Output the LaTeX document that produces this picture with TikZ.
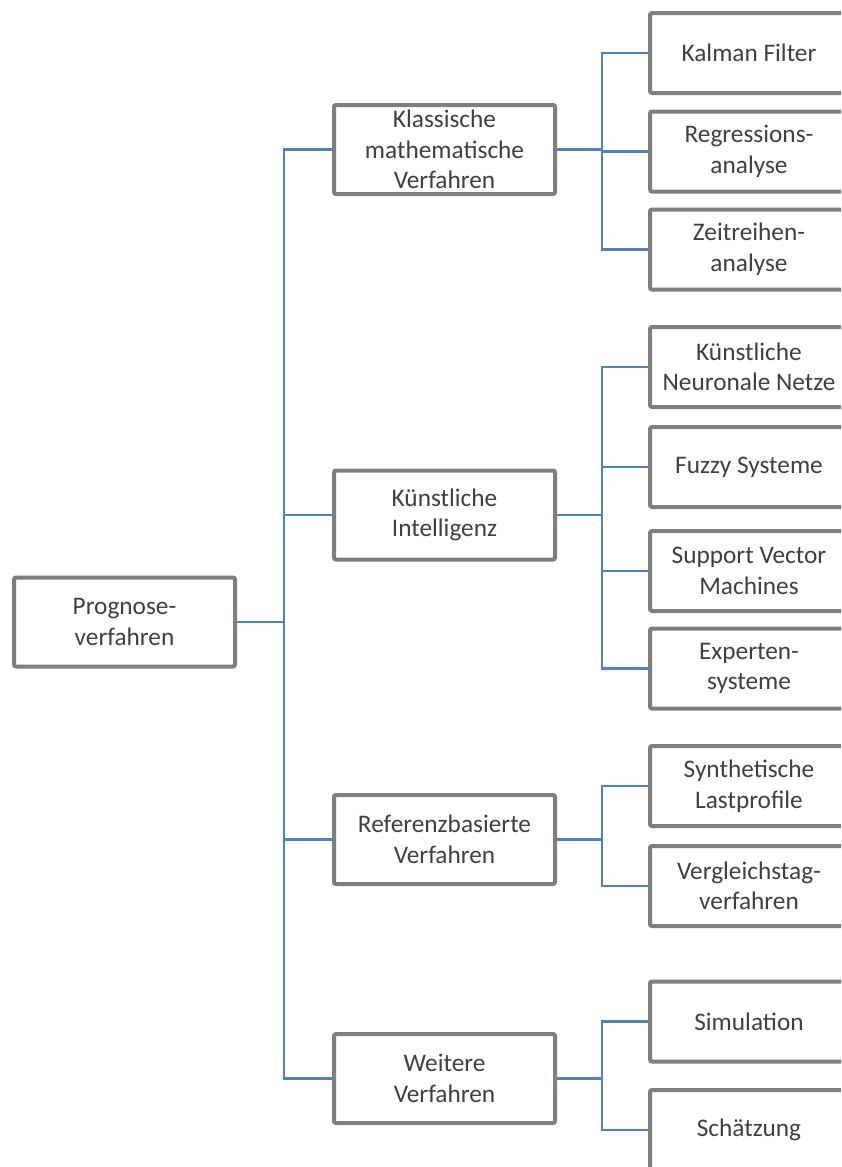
\documentclass[tikz,border=0pt]{standalone}
\usepackage{fontspec}
\setmainfont{Carlito}
\definecolor{boxgray}{HTML}{7F7F7F}
\definecolor{linkblue}{HTML}{4F81BD}
\definecolor{txtgray}{HTML}{404040}
\begin{document}
\begin{tikzpicture}[x=1pt,y=-1pt,
  boxtext/.style={text=txtgray, align=center, inner sep=0pt,
    font=\fontsize{25.3}{30.5}\selectfont},
  frame/.style={draw=boxgray, line width=4pt, rounded corners=2pt},
  mainbox/.style={frame, fill=white, boxtext, minimum width=221pt, minimum height=89pt},
  leafbox/.style={boxtext, outer sep=0pt, minimum width=198pt, minimum height=80pt},
  link/.style={draw=linkblue, line width=2.5pt}]
\useasboundingbox (0,0) rectangle (841,1167);
\clip (0,0) rectangle (841,1167);
\fill[white] (0,0) rectangle (841,1167);

% root
\node[mainbox] (prog) at (124.5,622) {Prognose-\\verfahren};

% second level
\node[mainbox] (klass) at (444.5,149.5) {Klassische\\mathematische\\Verfahren};
\node[mainbox] (ki)    at (444.5,515)   {Künstliche\\Intelligenz};
\node[mainbox] (ref)   at (444.5,839.5) {Referenzbasierte\\Verfahren};
\node[mainbox] (weit)  at (444.5,1078.5){Weitere\\Verfahren};

% leaves: the frames are open to the right and run off the edge
\foreach \n/\y/\t in {kalman/53/{Kalman Filter},
                      regr/151.5/{Regressions-\\analyse},
                      zeit/249.5/{Zeitreihen-\\analyse},
                      knn/367/{Künstliche\\Neuronale Netze},
                      fuzzy/467/{Fuzzy Systeme},
                      svm/571/{Support Vector\\Machines},
                      exp/668.5/{Experten-\\systeme},
                      synth/786/{Synthetische\\Lastprofile},
                      vgl/886/{Vergleichstag-\\verfahren},
                      sim/1021.5/{Simulation},
                      schae/1130/{Schätzung}}{
  \node[leafbox] (\n) at (749,\y) {\t};
  \draw[frame] ([xshift=250pt]\n.north west) -- (\n.north west)
               -- (\n.south west) -- ([xshift=250pt]\n.south west);
}

% connectors root -> second level
\foreach \c in {klass,ki,ref,weit}
  \draw[link] (prog.east) -- ++(47,0) |- (\c.west);

% connectors second level -> leaves
\foreach \p/\c in {klass/kalman,klass/regr,klass/zeit,
                   ki/knn,ki/fuzzy,ki/svm,ki/exp,
                   ref/synth,ref/vgl,
                   weit/sim,weit/schae}
  \draw[link] (\p.east) -- ++(45,0) |- ([xshift=-2pt]\c.west);
\end{tikzpicture}
\end{document}
